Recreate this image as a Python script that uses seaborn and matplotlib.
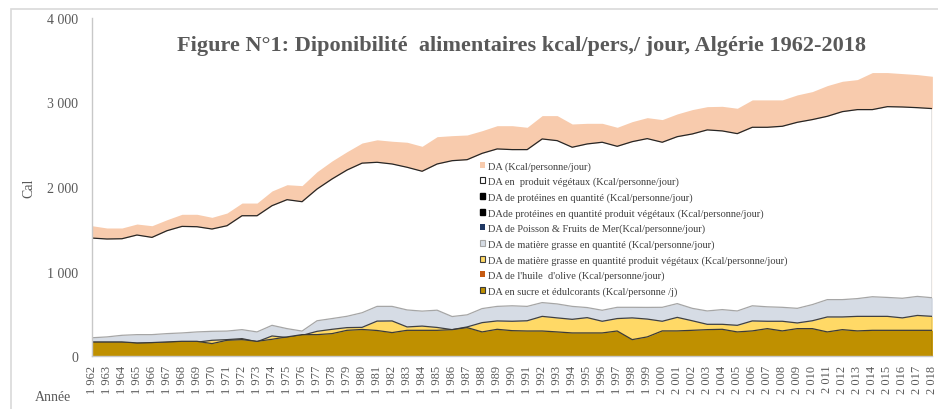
import numpy as np
import seaborn as sns
import matplotlib.pyplot as plt
from matplotlib.patches import Patch, Rectangle
from matplotlib.ticker import FuncFormatter

years = list(range(1962, 2019))

# DA totale (Kcal/personne/jour)
da_total = [1542, 1515, 1515, 1562, 1542, 1613, 1677, 1677, 1641, 1692,
            1810, 1810, 1953, 2027, 2016, 2181, 2308, 2418, 2520, 2558,
            2541, 2529, 2481, 2595, 2607, 2615, 2666, 2725, 2725, 2706,
            2844, 2844, 2745, 2753, 2753, 2706, 2773, 2820, 2797, 2864,
            2915, 2950, 2954, 2931, 3030, 3030, 3030, 3089, 3128, 3199,
            3250, 3270, 3353, 3353, 3341, 3329, 3309]
# DA en produits vegetaux
da_veg = [1396, 1385, 1388, 1432, 1404, 1483, 1534, 1530, 1503, 1542,
          1660, 1660, 1779, 1850, 1826, 1976, 2095, 2201, 2282, 2292,
          2272, 2233, 2186, 2272, 2311, 2323, 2398, 2450, 2442, 2442,
          2568, 2548, 2470, 2509, 2529, 2481, 2536, 2572, 2529, 2595,
          2627, 2675, 2663, 2631, 2706, 2706, 2718, 2765, 2797, 2836,
          2891, 2915, 2915, 2950, 2946, 2938, 2927]
# proteines (hidden behind the sugar area)
prot = [52, 50, 50, 53, 52, 55, 57, 57, 56, 58,
        61, 61, 64, 66, 66, 70, 73, 75, 77, 78,
        77, 76, 75, 78, 78, 79, 80, 82, 82, 81,
        84, 84, 81, 82, 82, 81, 82, 84, 83, 85,
        86, 87, 87, 86, 88, 88, 89, 90, 91, 92,
        93, 93, 95, 95, 94, 94, 93]
prot_veg = [44, 42, 42, 45, 44, 46, 48, 48, 47, 49,
            51, 51, 53, 55, 55, 58, 60, 61, 62, 63,
            62, 61, 60, 62, 62, 63, 64, 65, 65, 64,
            66, 66, 64, 65, 65, 64, 65, 66, 65, 66,
            67, 68, 68, 67, 68, 68, 69, 69, 70, 70,
            71, 71, 72, 72, 71, 71, 70]
poisson = [1, 1, 1, 1, 1, 1, 1, 1, 1, 1,
           1, 1, 1, 1, 1, 2, 2, 2, 2, 2,
           2, 2, 2, 2, 2, 2, 2, 2, 2, 2,
           2, 2, 2, 2, 2, 2, 3, 3, 3, 3,
           3, 3, 3, 3, 3, 3, 3, 3, 3, 3,
           3, 3, 4, 4, 4, 4, 4]
# matiere grasse
mg = [217, 227, 246, 254, 254, 266, 274, 286, 293, 296,
      313, 286, 364, 325, 296, 418, 444, 471, 513, 588,
      588, 546, 532, 543, 468, 488, 562, 588, 595, 588,
      633, 617, 588, 574, 542, 577, 577, 576, 577, 621,
      565, 534, 550, 534, 595, 583, 577, 565, 609, 668,
      668, 680, 702, 694, 684, 706, 690]
mg_veg = [160, 160, 160, 150, 152, 160, 165, 165, 187, 195,
          207, 170, 238, 220, 245, 293, 317, 337, 340, 414,
          416, 345, 355, 339, 313, 345, 396, 416, 412, 418,
          470, 452, 435, 455, 412, 444, 452, 438, 412, 458,
          418, 376, 376, 364, 416, 412, 412, 392, 418, 463,
          463, 470, 470, 470, 452, 481, 470]
olive = [9, 9, 10, 10, 10, 9, 10, 10, 10, 11,
         11, 10, 9, 10, 10, 12, 11, 10, 10, 11,
         12, 12, 11, 11, 12, 11, 12, 12, 13, 12,
         12, 12, 11, 12, 12, 13, 12, 12, 13, 13,
         14, 14, 13, 13, 14, 15, 15, 16, 17, 18,
         17, 17, 16, 16, 16, 15, 15]
sucre = [168, 168, 168, 156, 160, 168, 175, 175, 148, 187,
         195, 175, 199, 227, 254, 254, 266, 305, 315, 303,
         278, 305, 305, 305, 313, 337, 286, 317, 301, 297,
         297, 286, 274, 274, 274, 297, 195, 227, 298, 298,
         305, 313, 317, 286, 298, 325, 298, 325, 325, 286,
         313, 298, 305, 305, 305, 305, 305]

labels = [
    'DA (Kcal/personne/jour)',
    'DA en  produit végétaux (Kcal/personne/jour)',
    'DA de protéines en quantité (Kcal/personne/jour)',
    'DAde protéines en quantité produit végétaux (Kcal/personne/jour)',
    'DA de Poisson & Fruits de Mer(Kcal/personne/jour)',
    'DA de matière grasse en quantité (Kcal/personne/jour)',
    'DA de matière grasse en quantité produit végétaux (Kcal/personne/jour)',
    "DA de l'huile  d'olive (Kcal/personne/jour)",
    'DA en sucre et édulcorants (Kcal/personne /j)',
]

sns.set_style('white')
plt.rcParams['font.family'] = ['Liberation Serif', 'DejaVu Serif']
grey = '#595959'

fig = plt.figure(figsize=(9.38, 4.10), dpi=100)
ax = fig.add_axes([0.098, 0.129, 0.896, 0.825])

# (values, fill colour, edge colour or None)
series = [
    (da_total, '#F8CBAD', None),
    (da_veg, '#FFFFFF', '#262626'),
    (prot, '#000000', None),
    (prot_veg, '#000000', None),
    (poisson, '#203864', None),
    (mg, '#D6DCE5', '#A6A6A6'),
    (mg_veg, '#FFD966', '#404040'),
    (olive, '#C55A11', None),
    (sucre, '#BF9000', '#3A3A3A'),
]

for i, (vals, fc, ec) in enumerate(series):
    ax.fill_between(years, 0, vals, color=fc, lw=0, zorder=2 + i)
    if ec is not None:
        sns.lineplot(x=years, y=vals, color=ec, lw=0.9, ax=ax, zorder=2.5 + i)
        ax.vlines(years[-1], 0, vals[-1], color=ec, lw=0.9, zorder=2.5 + i)

ax.set_xlim(years[0], years[-1])
ax.set_ylim(0, 4000)
ax.set_yticks([0, 1000, 2000, 3000, 4000])
ax.yaxis.set_major_formatter(FuncFormatter(lambda v, p: f'{int(v):,}'.replace(',', ' ')))
ax.set_xticks(years)
ax.set_xticklabels([f'{y:,}'.replace(',', ' ') for y in years], rotation=90)
ax.tick_params(axis='both', length=0, colors=grey)
ax.tick_params(axis='y', pad=10, labelsize=10)
ax.tick_params(axis='x', pad=6, labelsize=9)

for s in ['top', 'right']:
    ax.spines[s].set_visible(False)
for s in ['left', 'bottom']:
    ax.spines[s].set_color('#C8C8C8')
    ax.spines[s].set_linewidth(1.0)
    ax.spines[s].set_zorder(20)

ax.set_ylabel('Cal', color=grey, fontsize=10, labelpad=8)
ax.set_xlabel('')
fig.text(35 / 938, 1 - 398 / 410, 'Année', color=grey, fontsize=10, ha='left', va='center')

ax.text(0.511, 0.92, 'Figure N°1: Diponibilité  alimentaires kcal/pers,/ jour, Algérie 1962-2018',
        transform=ax.transAxes, ha='center', va='center', fontsize=16,
        fontweight='bold', color=grey, zorder=30)

handles = [
    Patch(facecolor='#F8CBAD', edgecolor='none'),
    Patch(facecolor='#FFFFFF', edgecolor='#262626', lw=0.8),
    Patch(facecolor='#000000', edgecolor='#000000'),
    Patch(facecolor='#000000', edgecolor='#000000'),
    Patch(facecolor='#203864', edgecolor='none'),
    Patch(facecolor='#D6DCE5', edgecolor='#A6A6A6', lw=0.8),
    Patch(facecolor='#FFD966', edgecolor='#404040', lw=0.8),
    Patch(facecolor='#C55A11', edgecolor='none'),
    Patch(facecolor='#BF9000', edgecolor='#3A3A3A', lw=0.8),
]
leg = fig.legend(handles, labels, loc='upper left', bbox_to_anchor=(480 / 938, 1 - 162 / 410),
                 frameon=False, fontsize=7.5, handlelength=0.5, handleheight=0.5,
                 handletextpad=0.25, labelspacing=0.58, borderaxespad=0, borderpad=0)
for t in leg.get_texts():
    t.set_color('#404040')

fig.patches.append(Rectangle((11 / 938, -0.05), 1.2, 1 - 10 / 410 + 0.05,
                             transform=fig.transFigure, fill=False,
                             edgecolor='#D9D9D9', lw=1.2, zorder=0))

fig.savefig('out.png', dpi=100)
